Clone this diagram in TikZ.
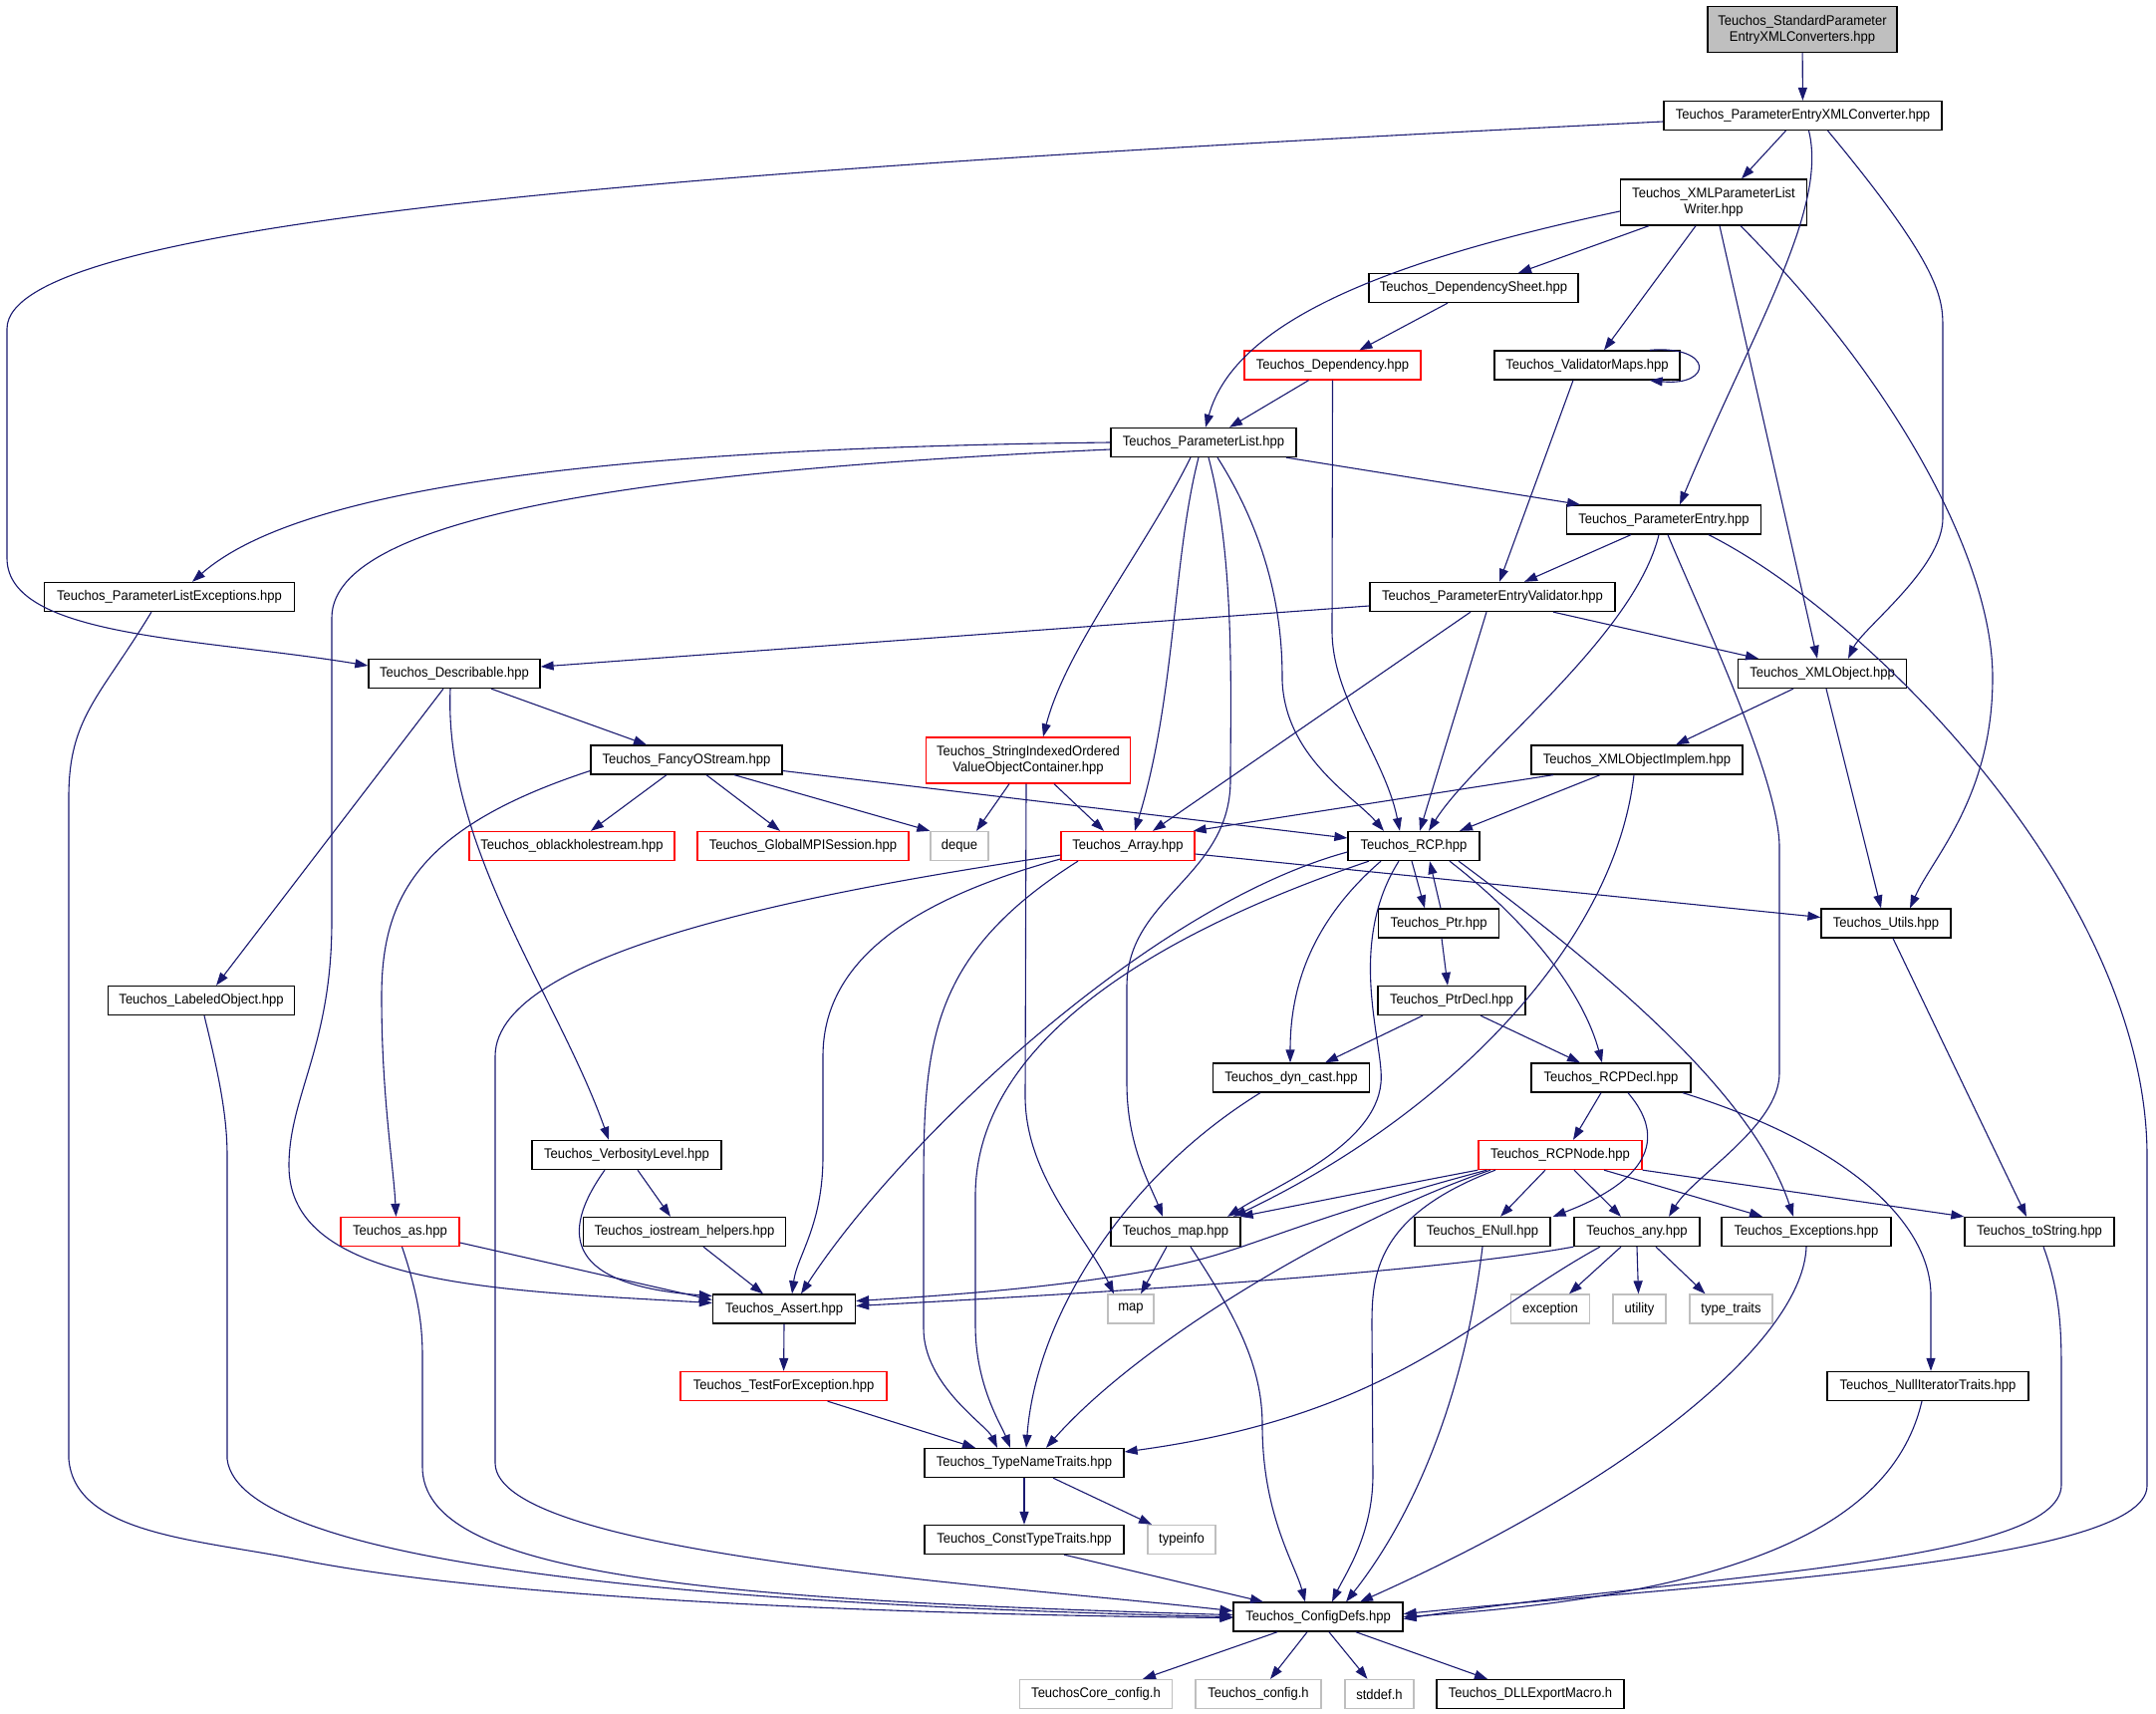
\documentclass[tikz,border=0pt]{standalone}
\usepackage{fontspec}
\usetikzlibrary{arrows.meta}
\newfontfamily\gvfont[FakeStretch=0.93]{Liberation Sans}
\definecolor{edgeblue}{HTML}{191970}
\definecolor{rootgrey}{HTML}{BFBFBF}
\definecolor{boxgrey}{HTML}{BFBFBF}
\tikzset{
  gvbox/.style={draw=black, line width=1.3pt, fill=white, inner sep=0pt, minimum height=29pt,
    font=\gvfont\fontsize{14pt}{16pt}\selectfont, align=center},
  nb/.style={gvbox},
  nr/.style={gvbox, draw=red},
  ng/.style={gvbox, draw=boxgrey},
  e/.style={draw=edgeblue, line width=1.1pt, -{Triangle[length=13pt,width=9pt]}},
}
\begin{document}
\begin{tikzpicture}[x=1pt,y=-1pt]
\useasboundingbox (0,0) rectangle (2164,1720);
% nodes
\node[nb, fill=rootgrey, minimum width=190pt, minimum height=46pt] (root) at (1809,29.5) {Teuchos\_StandardParameter\\EntryXMLConverters.hpp};
\node[nb, minimum width=279pt] (pexml) at (1809.5,116) {Teuchos\_ParameterEntryXMLConverter.hpp};
\node[nb, minimum width=187pt, minimum height=46pt] (xmlw) at (1720,203) {Teuchos\_XMLParameterList\\Writer.hpp};
\node[nb, minimum width=210pt] (depsheet) at (1479,289) {Teuchos\_DependencySheet.hpp};
\node[nr, minimum width=177pt] (dep) at (1337.5,366.5) {Teuchos\_Dependency.hpp};
\node[nb, minimum width=186pt] (vmaps) at (1593,366.5) {Teuchos\_ValidatorMaps.hpp};
\node[nb, minimum width=186pt] (plist) at (1208,444) {Teuchos\_ParameterList.hpp};
\node[nb, minimum width=195pt] (pentry) at (1670,521.5) {Teuchos\_ParameterEntry.hpp};
\node[nb, minimum width=251pt] (plexc) at (170,599) {Teuchos\_ParameterListExceptions.hpp};
\node[nb, minimum width=246pt] (pev) at (1498,599) {Teuchos\_ParameterEntryValidator.hpp};
\node[nb, minimum width=172pt] (desc) at (456,676) {Teuchos\_Describable.hpp};
\node[nb, minimum width=169pt] (xmlobj) at (1829,676) {Teuchos\_XMLObject.hpp};
\node[nb, minimum width=192pt] (fancy) at (689,762.5) {Teuchos\_FancyOStream.hpp};
\node[nr, minimum width=205pt, minimum height=46pt] (sioc) at (1032,763) {Teuchos\_StringIndexedOrdered\\ValueObjectContainer.hpp};
\node[nb, minimum width=212pt] (xmlimpl) at (1643,762.5) {Teuchos\_XMLObjectImplem.hpp};
\node[nr, minimum width=206pt] (oblack) at (574,849) {Teuchos\_oblackholestream.hpp};
\node[nr, minimum width=212pt] (gmpi) at (806,849) {Teuchos\_GlobalMPISession.hpp};
\node[ng, minimum width=58pt] (deque) at (963,849) {deque};
\node[nr, minimum width=134pt] (array) at (1132,849) {Teuchos\_Array.hpp};
\node[nb, minimum width=132pt] (rcp) at (1419,849) {Teuchos\_RCP.hpp};
\node[nb, minimum width=187pt] (labeled) at (202,1004) {Teuchos\_LabeledObject.hpp};
\node[nb, minimum width=121pt] (ptr) at (1444,926.5) {Teuchos\_Ptr.hpp};
\node[nb, minimum width=130pt] (utils) at (1893,926.5) {Teuchos\_Utils.hpp};
\node[nb, minimum width=148pt] (ptrdecl) at (1457,1004) {Teuchos\_PtrDecl.hpp};
\node[nb, minimum width=157pt] (dyncast) at (1296,1081.5) {Teuchos\_dyn\_cast.hpp};
\node[nb, minimum width=160pt] (rcpdecl) at (1617,1081.5) {Teuchos\_RCPDecl.hpp};
\node[nb, minimum width=190pt] (verb) at (629,1159) {Teuchos\_VerbosityLevel.hpp};
\node[nr, minimum width=164pt] (rcpnode) at (1566,1159) {Teuchos\_RCPNode.hpp};
\node[nr, minimum width=119pt] (as) at (401.5,1236) {Teuchos\_as.hpp};
\node[nb, minimum width=203pt] (iostream) at (687,1236) {Teuchos\_iostream\_helpers.hpp};
\node[nb, minimum width=130pt] (tmap) at (1180,1236) {Teuchos\_map.hpp};
\node[nb, minimum width=136pt] (enull) at (1488,1236) {Teuchos\_ENull.hpp};
\node[nb, minimum width=126pt] (any) at (1643,1236) {Teuchos\_any.hpp};
\node[nb, minimum width=170pt] (exc) at (1813,1236) {Teuchos\_Exceptions.hpp};
\node[nb, minimum width=150pt] (tostr) at (2047,1236) {Teuchos\_toString.hpp};
\node[nb, minimum width=143pt] (assert) at (787,1313.5) {Teuchos\_Assert.hpp};
\node[ng, minimum width=46pt] (map) at (1135,1313.5) {map};
\node[ng, minimum width=79pt] (exception) at (1556,1313.5) {exception};
\node[ng, minimum width=53pt] (utility) at (1645.5,1313.5) {utility};
\node[ng, minimum width=83pt] (typetraits) at (1737.5,1313.5) {type\_traits};
\node[nr, minimum width=207pt] (tfe) at (786.6,1391) {Teuchos\_TestForException.hpp};
\node[nb, minimum width=202pt] (nullit) at (1935,1391) {Teuchos\_NullIteratorTraits.hpp};
\node[nb, minimum width=200pt] (tnt) at (1028,1468) {Teuchos\_TypeNameTraits.hpp};
\node[nb, minimum width=200pt] (ctt) at (1028,1545) {Teuchos\_ConstTypeTraits.hpp};
\node[ng, minimum width=68pt] (typeinfo) at (1186,1545) {typeinfo};
\node[nb, minimum width=170pt] (config) at (1323,1622.6) {Teuchos\_ConfigDefs.hpp};
\node[ng, minimum width=153pt] (corecfg) at (1100,1700) {TeuchosCore\_config.h};
\node[ng, minimum width=126pt] (tcfg) at (1263,1700) {Teuchos\_config.h};
\node[ng, minimum width=69pt] (stddef) at (1384.5,1700) {stddef.h};
\node[nb, minimum width=188pt] (dll) at (1536,1700) {Teuchos\_DLLExportMacro.h};

% edges
\draw[e] (root) -- (pexml);
\draw[e] ([xshift=-17pt]pexml.south) -- ([xshift=28pt]xmlw.north);
\draw[e] ([yshift=-6pt]pexml.west) .. controls (700,170) and (7,220) .. (7,330) -- (7,560) .. controls (7,640) and (200,640) .. ([yshift=8pt]desc.west);
\draw[e] ([xshift=6pt]pexml.south) .. controls (1835,210) and (1760,330) .. ([xshift=16pt]pentry.north);
\draw[e] ([xshift=25pt]pexml.south) .. controls (1950,270) and (1950,300) .. (1950,330) -- (1950,520) .. controls (1950,570) and (1870,630) .. ([xshift=26pt]xmlobj.north);

\draw[e] ([xshift=-65pt]xmlw.south) -- ([xshift=45pt]depsheet.north);
\draw[e] ([yshift=-9pt]xmlw.west) .. controls (1400,260) and (1240,320) .. ([xshift=2pt]plist.north);
\draw[e] ([xshift=-18pt]xmlw.south) -- ([xshift=17pt]vmaps.north);
\draw[e] ([xshift=6pt]xmlw.south) -- ([xshift=-5pt]xmlobj.north);
\draw[e] ([xshift=27pt]xmlw.south) .. controls (1900,380) and (2000,560) .. (2000,680) .. controls (2000,800) and (1940,860) .. ([xshift=24pt]utils.north);

\draw[e] ([xshift=-26pt]depsheet.south) -- ([xshift=27pt]dep.north);
\draw[e] ([xshift=-24pt]dep.south) -- ([xshift=26pt]plist.north);
\draw[e] (dep.south) -- (1337,633) .. controls (1337,700) and (1390,760) .. ([xshift=-14pt]rcp.north);
\draw[e] ([xshift=-31pt]vmaps.north east) .. controls (1720,346) and (1720,388) .. ([xshift=-31pt]vmaps.south east);
\draw[e] ([xshift=-14pt]vmaps.south) -- ([xshift=7pt]pev.north);

\draw[e] (plist.west) .. controls (600,450) and (300,490) .. ([xshift=23pt]plexc.north);
\draw[e] ([yshift=-7pt]plist.west) .. controls (700,470) and (333,510) .. (333,620) -- (333,925) .. controls (333,1050) and (290,1100) .. (290,1170) .. controls (290,1290) and (500,1295) .. ([yshift=6pt]assert.west);
\draw[e] ([xshift=-13pt]plist.south) .. controls (1150,550) and (1070,650) .. ([xshift=15pt]sioc.north);
\draw[e] ([xshift=-5pt]plist.south) .. controls (1177,560) and (1180,700) .. ([xshift=7pt]array.north);
\draw[e] ([xshift=5pt]plist.south) .. controls (1240,560) and (1235,700) .. (1235,783) .. controls (1235,880) and (1131,900) .. (1131,990) -- (1131,1087) .. controls (1131,1150) and (1155,1190) .. ([xshift=-13pt]tmap.north);
\draw[e] ([xshift=14pt]plist.south) .. controls (1286,560) and (1287,650) .. (1287,683) .. controls (1290,760) and (1360,800) .. ([xshift=-30pt]rcp.north);
\draw[e] ([xshift=83pt]plist.south) -- ([xshift=-84pt]pentry.north);

\draw[e] ([xshift=-33pt]pentry.south) -- ([xshift=32pt]pev.north);
\draw[e] ([xshift=-5pt]pentry.south) .. controls (1640,640) and (1480,760) .. ([xshift=15pt]rcp.north);
\draw[e] ([xshift=4pt]pentry.south) .. controls (1700,600) and (1786,780) .. (1786,850) -- (1786,1077) .. controls (1786,1130) and (1700,1180) .. ([xshift=32pt]any.north);
\draw[e] ([xshift=45pt]pentry.south) .. controls (1880,620) and (2155,900) .. (2155,1160) -- (2155,1491) .. controls (2155,1570) and (1700,1590) .. ([yshift=3pt]config.east);

\draw[e] ([yshift=-9pt]pev.west) -- ([yshift=7pt]desc.east);
\draw[e] ([xshift=-22pt]pev.south) -- ([xshift=25pt]array.north);
\draw[e] ([xshift=-6pt]pev.south) -- ([xshift=6pt]rcp.north);
\draw[e] ([xshift=61pt]pev.south) -- ([xshift=-64pt]xmlobj.north);

\draw[e] ([xshift=-29pt]xmlobj.south) -- ([xshift=39pt]xmlimpl.north);
\draw[e] ([xshift=4pt]xmlobj.south) -- ([xshift=-5pt]utils.north);

\draw[e] ([xshift=-84pt]xmlimpl.south) -- ([xshift=-2pt]array.north east);
\draw[e] ([xshift=-37pt]xmlimpl.south) -- ([xshift=46pt]rcp.north);
\draw[e] ([xshift=-3pt]xmlimpl.south) .. controls (1620,950) and (1450,1120) .. ([xshift=58pt]tmap.north);

\draw[e] ([xshift=26pt]sioc.south) -- ([xshift=-24pt]array.north);
\draw[e] ([xshift=-19pt]sioc.south) -- ([xshift=17pt]deque.north);
\draw[e] ([xshift=-2pt]sioc.south) -- (1029,1100) .. controls (1029,1180) and (1090,1240) .. ([xshift=-17pt]map.north);

\draw[e] ([xshift=37pt]desc.south) -- ([xshift=-40pt]fancy.north);
\draw[e] ([xshift=-11pt]desc.south) -- ([xshift=15pt]labeled.north);
\draw[e] ([xshift=-4pt]desc.south) .. controls (445,850) and (560,1000) .. ([xshift=-18pt]verb.north);

\draw[e] ([yshift=-11pt]fancy.west) .. controls (420,830) and (383,900) .. (383,1000) .. controls (383,1100) and (395,1170) .. ([xshift=-4pt]as.north);
\draw[e] ([xshift=-20pt]fancy.south) -- ([xshift=19pt]oblack.north);
\draw[e] ([xshift=20pt]fancy.south) -- ([xshift=-23pt]gmpi.north);
\draw[e] ([xshift=48pt]fancy.south) -- (deque.north west);
\draw[e] ([yshift=-11pt]fancy.east) -- ([yshift=8pt]rcp.west);

\draw[e] ([yshift=-8pt]array.east) -- ([yshift=6pt]utils.west);
\draw[e] ([yshift=-9pt]array.west) .. controls (850,890) and (497,950) .. (497,1060) -- (497,1468) .. controls (497,1560) and (1000,1590) .. ([yshift=6pt]config.west);
\draw[e] ([yshift=-13pt]array.west) .. controls (911,904) and (826,966) .. (826,1060) -- (826,1160) .. controls (826,1230) and (800,1260) .. ([xshift=8pt]assert.north);
\draw[e] ([xshift=-50pt]array.south) .. controls (930,960) and (927,1050) .. (927,1200) -- (927,1333) .. controls (927,1390) and (990,1430) .. ([xshift=-27pt]tnt.north);

\draw[e] ([yshift=-6pt]rcp.west) .. controls (1150,910) and (900,1150) .. ([xshift=17pt]assert.north);
\draw[e] ([xshift=-45pt]rcp.south) .. controls (1150,940) and (979,1050) .. (979,1200) -- (979,1330) .. controls (979,1390) and (1005,1430) .. ([xshift=-14pt]tnt.north);
\draw[e] ([xshift=-33pt]rcp.south) .. controls (1310,930) and (1295,1000) .. ([xshift=-1pt]dyncast.north);
\draw[e] ([xshift=-15pt]rcp.south) .. controls (1350,950) and (1390,1050) .. (1386,1087) .. controls (1380,1150) and (1280,1190) .. ([xshift=52pt]tmap.north);
\draw[e] ([xshift=-2pt]rcp.south) -- ([xshift=-14pt]ptr.north);
\draw[e] ([xshift=2pt]ptr.north) -- ([xshift=16pt]rcp.south);
\draw[e] ([xshift=36pt]rcp.south) .. controls (1540,930) and (1590,1000) .. ([xshift=-9pt]rcpdecl.north);
\draw[e] ([xshift=45pt]rcp.south) .. controls (1620,980) and (1760,1100) .. ([xshift=-13pt]exc.north);

\draw[e] ([xshift=3pt]ptr.south) -- ([xshift=-4pt]ptrdecl.north);
\draw[e] ([xshift=-29pt]ptrdecl.south) -- ([xshift=34pt]dyncast.north);
\draw[e] ([xshift=29pt]ptrdecl.south) -- ([xshift=-31pt]rcpdecl.north);
\draw[e] ([xshift=-31pt]dyncast.south) .. controls (1130,1180) and (1040,1320) .. ([xshift=2pt]tnt.north);

\draw[e] ([xshift=-10pt]rcpdecl.south) -- ([xshift=13pt]rcpnode.north);
\draw[e] ([xshift=17pt]rcpdecl.south) .. controls (1680,1150) and (1640,1190) .. ([xshift=2pt]enull.north east);
\draw[e] ([xshift=72pt]rcpdecl.south) .. controls (1860,1150) and (1938,1230) .. (1938,1300) -- ([xshift=3pt]nullit.north);

\draw[e] (rcpnode.south west) .. controls (1400,1190) and (1300,1210) .. ([xshift=-1pt]tmap.north east);
\draw[e] ([xshift=9pt]rcpnode.south west) .. controls (1320,1220) and (1260,1250) .. (1200,1265) .. controls (1100,1290) and (950,1300) .. ([yshift=8pt]assert.east);
\draw[e] ([xshift=-70pt]rcpnode.south) .. controls (1360,1220) and (1150,1340) .. ([xshift=22pt]tnt.north);
\draw[e] ([xshift=-65pt]rcpnode.south) .. controls (1380,1220) and (1377,1280) .. (1377,1330) -- (1378,1480) .. controls (1378,1540) and (1350,1580) .. ([xshift=14pt]config.north);
\draw[e] ([xshift=-15pt]rcpnode.south) -- ([xshift=18pt]enull.north);
\draw[e] ([xshift=14pt]rcpnode.south) -- ([xshift=-16pt]any.north);
\draw[e] ([xshift=44pt]rcpnode.south) -- ([xshift=-44pt]exc.north);
\draw[e] (rcpnode.south east) -- (tostr.north west);

\draw[e] ([xshift=3pt]labeled.south) .. controls (220,1080) and (228,1120) .. (228,1160) -- (228,1464) .. controls (240,1570) and (700,1610) .. (config.west);
\draw[e] ([xshift=-18pt]plexc.south) .. controls (100,700) and (69,720) .. (69,800) -- (69,1464) .. controls (75,1540) and (200,1545) .. (300,1565) .. controls (500,1605) and (900,1620) .. ([yshift=-1pt]config.west);
\draw[e] ([xshift=2pt]as.south) .. controls (420,1300) and (424,1330) .. (424,1361) -- (424,1472) .. controls (424,1580) and (700,1605) .. ([yshift=2pt]config.west);
\draw[e] ([yshift=-11pt]as.east) -- ([yshift=9pt]assert.west);

\draw[e] ([xshift=11pt]verb.south) -- ([xshift=-14pt]iostream.north);
\draw[e] ([xshift=-22pt]verb.south) .. controls (560,1240) and (570,1290) .. ([yshift=13pt]assert.west);
\draw[e] ([xshift=19pt]iostream.south) -- ([xshift=-21pt]assert.north);

\draw[e] ([xshift=-9pt]tmap.south) -- ([xshift=10pt]map.north);
\draw[e] ([xshift=15pt]tmap.south) .. controls (1240,1320) and (1267,1370) .. (1267,1430) .. controls (1267,1520) and (1300,1570) .. ([xshift=-13pt]config.north);
\draw[e] (enull.south) .. controls (1470,1400) and (1420,1520) .. ([xshift=28pt]config.north);

\draw[e] ([xshift=-16pt]any.south) -- ([xshift=19pt]exception.north);
\draw[e] (any.south) -- ([xshift=-1pt]utility.north);
\draw[e] ([xshift=19pt]any.south) -- ([xshift=-26pt]typetraits.north);
\draw[e] (any.south west) .. controls (1450,1275) and (1150,1295) .. ([yshift=3pt]assert.east);
\draw[e] ([xshift=-37pt]any.south) .. controls (1480,1320) and (1400,1420) .. ([yshift=11pt]tnt.east);

\draw[e] (exc.south) .. controls (1810,1340) and (1650,1480) .. ([xshift=42pt]config.north);
\draw[e] ([xshift=4pt]tostr.south) .. controls (2069,1300) and (2069,1340) .. (2069,1380) -- (2069,1490) .. controls (2069,1570) and (1700,1580) .. ([yshift=-2pt]config.east);
\draw[e] ([xshift=-6pt]nullit.south) .. controls (1900,1530) and (1750,1600) .. (config.east);
\draw[e] ([xshift=7pt]utils.south) -- ([xshift=-13pt]tostr.north);

\draw[e] (assert.south) -- (tfe.north);
\draw[e] ([xshift=44pt]tfe.south) -- ([xshift=-49pt]tnt.north);
\draw[e] (tnt.south) -- (ctt.north);
\draw[e] ([xshift=29pt]tnt.south) -- ([xshift=-30pt]typeinfo.north);
\draw[e] ([xshift=40pt]ctt.south) -- ([xshift=-55pt]config.north);

\draw[e] ([xshift=-41pt]config.south) -- ([xshift=47pt]corecfg.north);
\draw[e] ([xshift=-11pt]config.south) -- ([xshift=12pt]tcfg.north);
\draw[e] ([xshift=11pt]config.south) -- ([xshift=-12pt]stddef.north);
\draw[e] ([xshift=38pt]config.south) -- ([xshift=-43pt]dll.north);
\end{tikzpicture}
\end{document}
